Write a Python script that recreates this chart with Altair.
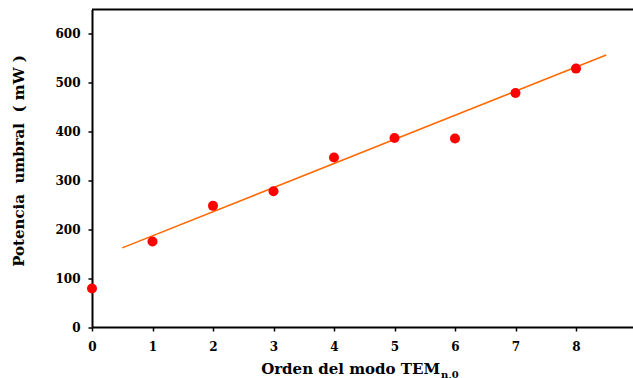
import altair as alt
import pandas as pd

orden = [0, 1, 2, 3, 4, 5, 6, 7, 8]
potencia = [79, 175, 248, 278, 347, 387, 386, 479, 529]

ajuste_x = [0.5, 8.5]
ajuste_y = [162, 557]

x_ticks = [0, 1, 2, 3, 4, 5, 6, 7, 8]
y_ticks = [0, 100, 200, 300, 400, 500, 600]

pts = pd.DataFrame({"x": orden, "y": potencia})
fit = pd.DataFrame({"x": ajuste_x, "y": ajuste_y})

FONT = "DejaVu Serif"
W = 541
H = 317.5

xscale = alt.Scale(domain=[0, W / 60.5], nice=False, zero=False)
yscale = alt.Scale(domain=[0, 650], nice=False)

NB = "\u00a0"
ytitle = f"Potencia{NB} umbral{NB} ({NB}mW{NB})"

xaxis = alt.Axis(values=x_ticks, title=None, labelFont=FONT, labelFontWeight="bold",
                 labelFontSize=12, labelColor="black", tickColor="black", tickSize=4,
                 domainColor="black", domainWidth=2, tickWidth=1.5, grid=False,
                 labelPadding=10, labelFlush=False, format="d")
yaxis = alt.Axis(values=y_ticks, title=ytitle, titleFont=FONT,
                 titleFontWeight="bold", titleFontSize=15, titleColor="black",
                 titlePadding=28, titleY=151, labelFont=FONT, labelFontWeight="bold",
                 labelFontSize=12, labelColor="black", tickColor="black", tickSize=4,
                 domainColor="black", domainWidth=2, tickWidth=1.5, grid=False,
                 labelPadding=8, labelFlush=False, format="d")

line = alt.Chart(fit).mark_line(color="#ff6a00", strokeWidth=1.6).encode(
    x=alt.X("x:Q", scale=xscale, axis=xaxis),
    y=alt.Y("y:Q", scale=yscale, axis=yaxis),
)

points = alt.Chart(pts).mark_circle(color="#ff0000", opacity=1, size=100).encode(
    x=alt.X("x:Q", scale=xscale),
    y=alt.Y("y:Q", scale=yscale),
)

top_frame = alt.Chart(pd.DataFrame({"a": [0]})).mark_rule(
    color="black", strokeWidth=2
).encode(x=alt.value(0), x2=alt.value(W), y=alt.value(0))

title_main = alt.Chart(pd.DataFrame({"t": ["Orden del modo TEM"]})).mark_text(
    font=FONT, fontWeight="bold", fontSize=15, align="right", baseline="alphabetic",
    color="black"
).encode(x=alt.value(348), y=alt.value(364), text="t:N")

title_sub = alt.Chart(pd.DataFrame({"t": ["n,0"]})).mark_text(
    font=FONT, fontWeight="bold", fontSize=10, align="left", baseline="alphabetic",
    color="black"
).encode(x=alt.value(349), y=alt.value(368), text="t:N")

chart = alt.layer(line, points, top_frame, title_main, title_sub).properties(
    width=W, height=H,
    background="white",
    autosize=alt.AutoSizeParams(type="none"),
    padding={"left": 92, "top": 9.5, "right": 0, "bottom": 51},
).configure_view(stroke=None)

chart.save("out.html", embed_options={"renderer": "svg", "actions": False})
